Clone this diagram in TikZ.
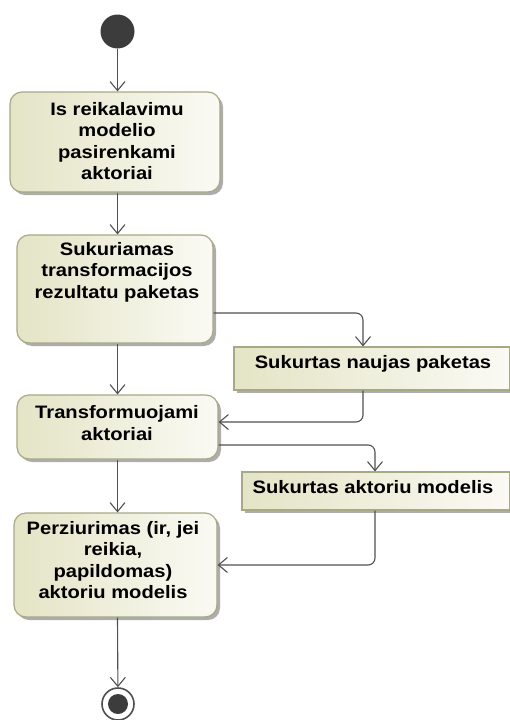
\documentclass[tikz,border=0pt]{standalone}
\usepackage{fontspec}
\setmainfont{Liberation Sans}[FakeStretch=1.12]
\usetikzlibrary{arrows.meta,shadows,calc}
\definecolor{boxfill}{HTML}{E4E4C6}
\definecolor{boxfillR}{HTML}{FAFAF4}
\definecolor{boxline}{HTML}{A8A884}
\definecolor{flowline}{HTML}{505050}
\definecolor{dotfill}{HTML}{3C3C3C}
\tikzset{
  x=1pt, y=-1pt,
  boxshade/.style={left color=boxfill, right color=boxfillR, draw=boxline, line width=1.2pt,
    drop shadow={shadow xshift=3pt, shadow yshift=-3pt, fill=black!40, opacity=0.8}},
  action/.style={boxshade, rounded corners=12pt, inner sep=0pt},
  objnode/.style={boxshade, rounded corners=0pt, inner sep=0pt},
  label/.style={font=\fontsize{18}{21.5}\selectfont\bfseries, align=center, inner sep=0pt, text=black},
  flow/.style={draw=flowline, line width=1.1pt, -{Straight Barb[length=9pt,width=15pt,line width=1.1pt]}},
}
\begin{document}
\begin{tikzpicture}
\useasboundingbox (0,0) rectangle (510,720);

% start and end nodes
\node[circle, fill=dotfill, minimum size=34pt, inner sep=0pt] (init) at (117.5,31.5) {};
\node[circle, draw=flowline, line width=1.6pt, fill=white, minimum size=32pt, inner sep=0pt] (final) at (118,704) {};
\node[circle, fill=dotfill, minimum size=20pt, inner sep=0pt] (finaldot) at (final.center) {};

% action boxes
\node[action, minimum width=210pt, minimum height=100pt] (a1) at (115,142) {};
\node[label] (t1) at (117,141) {Is reikalavimu\\modelio\\pasirenkami\\aktoriai};

\node[action, minimum width=196pt, minimum height=108pt] (a2) at (115,289) {};
\node[label, anchor=north] (t2) at (117,242) {Sukuriamas\\transformacijos\\rezultatu paketas};

\node[action, minimum width=201pt, minimum height=64pt] (a3) at (117.5,427) {};
\node[label] (t3) at (117,423) {Transformuojami\\aktoriai};

\node[action, minimum width=203pt, minimum height=104pt] (a4) at (115.5,565) {};
\node[label] (t4) at (113,560) {Perziurimas (ir, jei\\reikia,\\papildomas)\\aktoriu modelis};

% object nodes
\node[objnode, minimum width=276pt, minimum height=43pt] (o1) at (372,368.5) {};
\node[label] (to1) at (373,364) {Sukurtas naujas paketas};

\node[objnode, minimum width=268pt, minimum height=38pt] (o2) at (376,491) {};
\node[label] (to2) at (373,487) {Sukurtas aktoriu modelis};

% control flow
\draw[flow] (init) -- (a1.north -| init);
\draw[flow] (a1.south -| init) -- (a2.north -| init);
\draw[flow] (a2.south -| init) -- (a3.north -| init);
\draw[flow] (a3.south -| init) -- (a4.north -| init);
\draw[flow] (a4.south -| init) -- (final);

% object flow
\draw[flow, rounded corners=7pt] ([yshift=-24pt]a2.east) -| ([xshift=-9pt]o1.north);
\draw[flow, rounded corners=7pt] ([xshift=-9pt]o1.south) |- ([yshift=5pt]a3.east);
\draw[flow, rounded corners=7pt] ([yshift=-18pt]a3.east) -| ([xshift=-1pt]o2.north);
\draw[flow, rounded corners=7pt] ([xshift=-1pt]o2.south) |- (a4.east);
\end{tikzpicture}
\end{document}
